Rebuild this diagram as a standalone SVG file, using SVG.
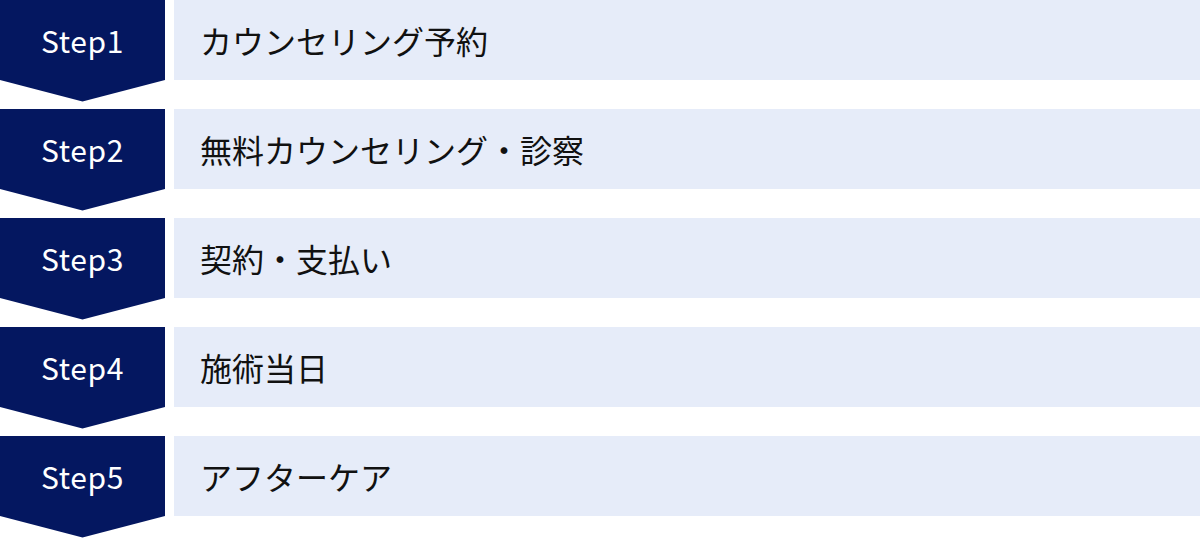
<svg xmlns="http://www.w3.org/2000/svg" width="1200" height="538" viewBox="0 0 1200 538">
<style>
.chev{fill:#041760}
.bar{fill:#e6ecf9}
.step{font-family:"Noto Sans CJK JP","Noto Sans",sans-serif;font-size:30px;fill:#ffffff;text-anchor:middle;letter-spacing:0.6px}
.lbl{font-family:"Noto Sans CJK JP","Noto Sans",sans-serif;font-size:32px;fill:#111111;dominant-baseline:central}
</style>
<defs>
<path id="chevShape" d="M0 0H165V80L82.5 101.5L0 80Z"/>
</defs>
<g id="step1">
<use href="#chevShape" class="chev"/>
<rect class="bar" x="174" y="0" width="1026" height="80"/>
<text class="step" x="82.5" y="53">Step1</text>
<text class="lbl" x="200" y="40">カウンセリング予約</text>
</g>
<g id="step2" transform="translate(0,109)">
<use href="#chevShape" class="chev"/>
<rect class="bar" x="174" y="0" width="1026" height="80"/>
<text class="step" x="82.5" y="53">Step2</text>
<text class="lbl" x="200" y="40">無料カウンセリング・診察</text>
</g>
<g id="step3" transform="translate(0,218)">
<use href="#chevShape" class="chev"/>
<rect class="bar" x="174" y="0" width="1026" height="80"/>
<text class="step" x="82.5" y="53">Step3</text>
<text class="lbl" x="200" y="40">契約・支払い</text>
</g>
<g id="step4" transform="translate(0,327)">
<use href="#chevShape" class="chev"/>
<rect class="bar" x="174" y="0" width="1026" height="80"/>
<text class="step" x="82.5" y="53">Step4</text>
<text class="lbl" x="200" y="40">施術当日</text>
</g>
<g id="step5" transform="translate(0,436)">
<use href="#chevShape" class="chev"/>
<rect class="bar" x="174" y="0" width="1026" height="80"/>
<text class="step" x="82.5" y="53">Step5</text>
<text class="lbl" x="200" y="40">アフターケア</text>
</g>
<g id="connectors"/>
</svg>
